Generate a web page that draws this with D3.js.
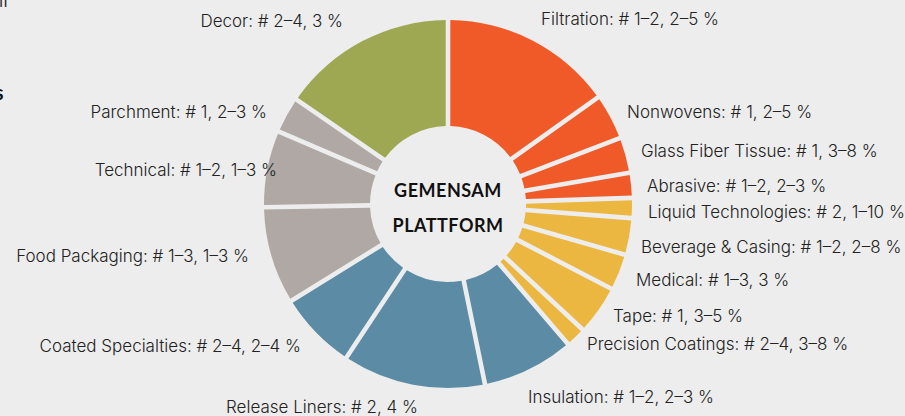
<!DOCTYPE html>
<html>
<head>
<meta charset="utf-8">
<script src="https://cdn.jsdelivr.net/npm/d3@7"></script>
<style>
  html, body { margin: 0; padding: 0; background: #ededed; }
  svg { display: block; }
  .lbl { font-family: "Inter", "Lato", sans-serif; font-weight: 300; font-size: 17px; fill: #222; }
  .center { font-family: "Lato", sans-serif; font-weight: 700; font-size: 18px; fill: #111; letter-spacing: 0.5px; }
</style>
</head>
<body>
<div id="chart"></div>
<script>
// segments, clockwise from 12 o'clock
var segments = ["Filtration", "Nonwovens", "Glass Fiber Tissue", "Abrasive", "Liquid Technologies",
  "Beverage & Casing", "Medical", "Tape", "Precision Coatings", "Insulation", "Release Liners",
  "Coated Specialties", "Food Packaging", "Technical", "Parchment", "Decor"];
var groups = ["orange", "orange", "orange", "orange", "yellow", "yellow", "yellow", "yellow", "yellow",
  "blue", "blue", "blue", "grey", "grey", "grey", "green"];
// share of the ring (in degrees)
var shares = [54.6, 14.4, 11.2, 7.9, 6.3, 11.6, 11.4, 15.6, 6.4, 29, 45.1, 24.8, 30.7, 24.2, 11.4, 55.4];
var positions = ["# 1–2", "# 1", "# 1", "# 1–2", "# 2", "# 1–2", "# 1–3", "# 1", "# 2–4", "# 1–2", "# 2",
  "# 2–4", "# 1–3", "# 1–2", "# 1", "# 2–4"];
var margins = ["2–5 %", "2–5 %", "3–8 %", "2–3 %", "1–10 %", "2–8 %", "3 %", "3–5 %", "3–8 %", "2–3 %", "4 %",
  "2–4 %", "1–3 %", "1–3 %", "2–3 %", "3 %"];
var centerLines = ["GEMENSAM", "PLATTFORM"];

// label placement (x, baseline y, anchor)
var labelAt = {
  "Filtration": [541, 25, "start"],
  "Nonwovens": [627, 118, "start"],
  "Glass Fiber Tissue": [641, 157, "start"],
  "Abrasive": [647, 192, "start"],
  "Liquid Technologies": [648, 218, "start"],
  "Beverage & Casing": [641, 253, "start"],
  "Medical": [636, 286, "start"],
  "Tape": [613, 322, "start"],
  "Precision Coatings": [587, 350, "start"],
  "Insulation": [528, 403, "start"],
  "Release Liners": [418, 413, "end"],
  "Coated Specialties": [301, 352, "end"],
  "Food Packaging": [249, 262, "end"],
  "Technical": [277, 176, "end"],
  "Parchment": [267, 118, "end"],
  "Decor": [343, 27, "end"]
};

var color = d3.scaleOrdinal()
  .domain(["orange", "yellow", "blue", "grey", "green"])
  .range(["#f05a28", "#ecb740", "#5b8ba5", "#afa8a4", "#9ea752"]);

var width = 905, height = 416;
var cx = 448, cy = 204;

var svg = d3.select("#chart").append("svg")
  .attr("width", width)
  .attr("height", height);

var data = segments.map(function(s, i) {
  return {name: s, group: groups[i], share: shares[i], pos: positions[i], margin: margins[i]};
});

var pie = d3.pie().sort(null).value(function(d){ return d.share; });
var arc = d3.arc().innerRadius(78).outerRadius(184).padAngle(0.025).padRadius(184);

var g = svg.append("g").attr("transform", "translate(" + cx + "," + cy + ")");

g.selectAll("path")
  .data(pie(data))
  .enter().append("path")
  .attr("d", arc)
  .attr("fill", function(d){ return color(d.data.group); });

g.selectAll(".center")
  .data(centerLines)
  .enter().append("text")
  .attr("class", "center")
  .attr("text-anchor", "middle")
  .attr("x", 0)
  .attr("y", function(d, i){ return -7 + i * 35; })
  .text(function(d){ return d; });

svg.selectAll(".lbl")
  .data(data)
  .enter().append("text")
  .attr("class", "lbl")
  .attr("x", function(d){ return labelAt[d.name][0]; })
  .attr("y", function(d){ return labelAt[d.name][1]; })
  .attr("text-anchor", function(d){ return labelAt[d.name][2]; })
  .text(function(d){ return d.name + ": " + d.pos + ", " + d.margin; });

// bits of the page title cut off on the left edge
svg.append("text").attr("class", "lbl").attr("x", 8).attr("y", 7)
  .attr("text-anchor", "end").style("font-size", "20px").text("ll");
svg.append("text").attr("class", "center").attr("x", 4).attr("y", 100)
  .attr("text-anchor", "end").style("font-size", "20px").text("s");
</script>
</body>
</html>
